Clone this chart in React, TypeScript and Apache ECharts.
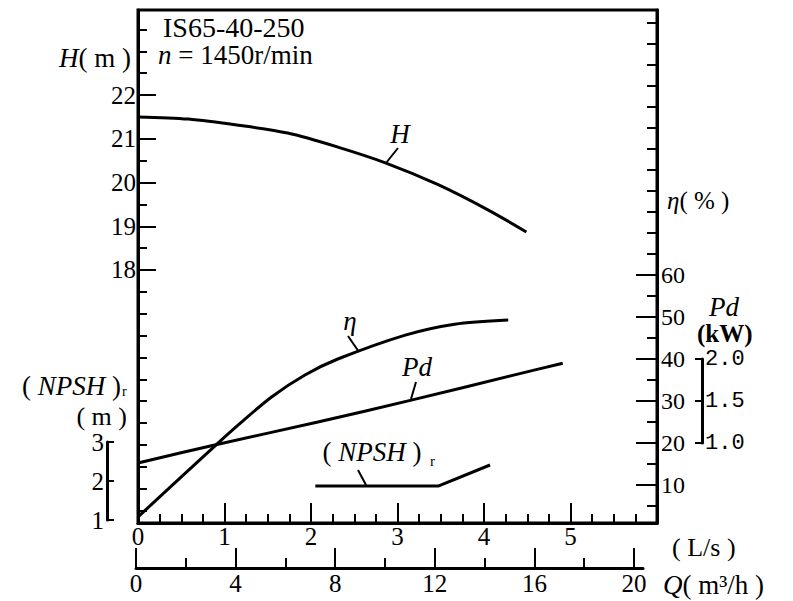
import React, { useEffect, useRef } from 'react';
import * as echarts from 'echarts';

// ---- data (flow in L/s) ----
const headFlow = [0, 0.58, 1.16, 1.73, 2.31, 2.86, 3.47, 4.05, 4.49];
const headValues = [21.5, 21.45, 21.31, 21.13, 20.81, 20.45, 19.95, 19.37, 18.87];
const effFlow = [0.0, 0.9, 1.16, 1.54, 1.93, 2.31, 3.09, 3.66, 4.28];
const effValues = [2.4, 19.5, 24.3, 30.9, 36.2, 40.0, 45.7, 48.3, 49.3];
const powerFlow = [0, 0.9, 2.08, 3.16, 4.39, 4.91];
const powerValues = [0.762, 0.98, 1.25, 1.51, 1.82, 1.95];
const npshFlow = [2.05, 3.47, 4.07];
const npshValues = [1.87, 1.87, 2.41];

// ---- tick labels ----
const headMajorTicks = [18, 19, 20, 21, 22];
const headMinorTicks = [12.5, 13, 13.5, 14, 14.5, 15, 15.5, 16, 16.5, 17, 17.5, 18.5, 19.5, 20.5, 21.5, 22.5, 23, 23.5];
const effMajorTicks = [10, 20, 30, 40, 50, 60];
const effMinorTicks = [5, 15, 25, 35, 45, 55, 65, 70, 75, 80, 85, 90, 95, 100, 105, 110, 115, 120];
const m3hMajorTicks = [0, 4, 8, 12, 16, 20];
const m3hMinorTicks = [2, 6, 10, 14, 18];

const serif = '"Liberation Serif", "DejaVu Serif", serif';
const mono = '"Liberation Mono", "DejaVu Sans Mono", monospace';
const black = '#000';

const zip = (a: number[], b: number[]) => a.map((v, i) => [v, b[i]]);

const axisLabelFont = { fontFamily: serif, fontSize: 25, color: black };
const tickStyle = { color: black, width: 2 };
const lineStyleAxis = { color: black, width: 3 };

function txt(x: number, y: number, text: string, extra: any = {}) {
  return {
    type: 'text',
    x,
    y,
    silent: true,
    style: {
      text,
      fontFamily: serif,
      fontSize: 27,
      fill: black,
      align: 'left',
      verticalAlign: 'middle',
      ...extra,
    },
  };
}
const italicRich = (size: number) => ({ i: { fontFamily: serif, fontSize: size, fontStyle: 'italic', fill: black } });
function leader(x1: number, y1: number, x2: number, y2: number) {
  return { type: 'line', silent: true, shape: { x1, y1, x2, y2 }, style: { stroke: black, lineWidth: 2 } };
}

export default function App() {
  const ref = useRef<HTMLDivElement>(null);
  useEffect(() => {
    const chart = echarts.init(ref.current!, null, { renderer: 'svg' });
    const curve = (name: string, yAxisIndex: number, data: number[][], smooth: boolean | number) => ({
      type: 'line',
      name,
      xAxisIndex: 0,
      yAxisIndex,
      data,
      smooth,
      showSymbol: false,
      silent: true,
      lineStyle: { color: black, width: 3 },
    });
    chart.setOption({
      animation: false,
      backgroundColor: '#fff',
      grid: [
        { left: 138, top: 10, width: 519, height: 513, show: true, borderColor: black, borderWidth: 3, backgroundColor: 'transparent' },
        { left: 136, top: 566, width: 507, height: 2 },
        { left: 107, top: 442, width: 1, height: 78 },
        { left: 695, top: 359, width: 7, height: 84 },
      ],
      xAxis: [
        {
          gridIndex: 0, type: 'value', position: 'bottom', min: 0, max: 6, interval: 1,
          axisLine: { show: true, onZero: false, lineStyle: lineStyleAxis },
          axisTick: { show: true, inside: true, length: 20, lineStyle: tickStyle },
          minorTick: { show: true, splitNumber: 4, length: 9, lineStyle: tickStyle },
          axisLabel: { ...axisLabelFont, margin: 1, formatter: (v: number) => (v > 5.5 ? '' : String(v)) },
          splitLine: { show: false }, minorSplitLine: { show: false },
        },
        {
          gridIndex: 1, type: 'value', position: 'bottom', min: 0, max: 20.36,
          axisLine: { show: true, onZero: false, lineStyle: lineStyleAxis },
          axisTick: { show: true, inside: true, length: 20, lineStyle: tickStyle, customValues: m3hMajorTicks },
          axisLabel: { ...axisLabelFont, margin: 3, customValues: m3hMajorTicks },
          splitLine: { show: false },
        },
        {
          gridIndex: 1, type: 'value', position: 'bottom', min: 0, max: 20.36,
          axisLine: { show: false, onZero: false },
          axisTick: { show: true, inside: true, length: 10, lineStyle: tickStyle, customValues: m3hMinorTicks },
          axisLabel: { show: false },
          splitLine: { show: false },
        },
        { gridIndex: 2, type: 'value', show: false, min: 0, max: 1 },
        { gridIndex: 3, type: 'value', show: false, min: 0, max: 1 },
      ],
      yAxis: [
        {
          gridIndex: 0, type: 'value', position: 'left', min: 12.217, max: 23.943,
          axisLine: { show: true, onZero: false, lineStyle: lineStyleAxis },
          axisTick: { show: true, inside: true, length: 18, lineStyle: tickStyle, customValues: headMajorTicks },
          axisLabel: { ...axisLabelFont, margin: 2, customValues: headMajorTicks },
          splitLine: { show: false },
        },
        {
          gridIndex: 0, type: 'value', position: 'left', min: 12.217, max: 23.943,
          axisLine: { show: false, onZero: false },
          axisTick: { show: true, inside: true, length: 9, lineStyle: tickStyle, customValues: headMinorTicks },
          axisLabel: { show: false },
          splitLine: { show: false },
        },
        {
          gridIndex: 0, type: 'value', position: 'right', min: 0.952, max: 123.1,
          axisLine: { show: true, onZero: false, lineStyle: lineStyleAxis },
          axisTick: { show: true, inside: true, length: 21, lineStyle: tickStyle, customValues: effMajorTicks },
          axisLabel: { fontFamily: serif, fontSize: 24, color: black, margin: 4, customValues: effMajorTicks },
          splitLine: { show: false },
        },
        {
          gridIndex: 0, type: 'value', position: 'right', min: 0.952, max: 123.1,
          axisLine: { show: false, onZero: false },
          axisTick: { show: true, inside: true, length: 10, lineStyle: tickStyle, customValues: effMinorTicks },
          axisLabel: { show: false },
          splitLine: { show: false },
        },
        { gridIndex: 0, type: 'value', show: false, min: 0.0476, max: 6.155, axisLine: { onZero: false } },
        { gridIndex: 0, type: 'value', show: false, min: 0.923, max: 14.077, axisLine: { onZero: false } },
        { gridIndex: 1, type: 'value', show: false, min: 0, max: 1 },
        {
          gridIndex: 2, type: 'value', position: 'left', min: 1, max: 3, interval: 1,
          axisLine: { show: true, onZero: false, lineStyle: lineStyleAxis },
          axisTick: { show: true, inside: true, length: 7, lineStyle: tickStyle },
          axisLabel: { ...axisLabelFont, margin: 3 },
          splitLine: { show: false },
        },
        {
          gridIndex: 3, type: 'value', position: 'right', min: 1, max: 2, interval: 0.5,
          axisLine: { show: true, onZero: false, lineStyle: lineStyleAxis },
          axisTick: { show: true, inside: true, length: 7, lineStyle: tickStyle },
          axisLabel: { fontFamily: mono, fontSize: 22, color: black, margin: 3, formatter: (v: number) => v.toFixed(1) },
          splitLine: { show: false },
        },
      ],
      series: [
        curve('H', 0, zip(headFlow, headValues), 0.3),
        curve('η', 2, zip(effFlow, effValues), 0.3),
        curve('Pd', 4, zip(powerFlow, powerValues), 0.3),
        curve('(NPSH)r', 5, zip(npshFlow, npshValues), false),
      ],
      graphic: [
        txt(163, 27, 'IS65-40-250', { fontSize: 28 }),
        txt(158, 55, '{i|n} = 1450r/min', { rich: italicRich(27) }),
        txt(131, 58, '{i|H}( m )', { align: 'right', rich: italicRich(27) }),
        txt(667, 200, '{i|η}( % )', { fontSize: 25, rich: italicRich(25) }),
        txt(709, 307, 'Pd', { fontStyle: 'italic', fontSize: 27 }),
        txt(697, 333, '(kW)', { fontWeight: 'bold', fontSize: 25 }),
        txt(121, 386, '( {i|NPSH} )', { align: 'right', fontSize: 27, rich: italicRich(27) }),
        txt(122, 391, 'r', { fontSize: 14 }),
        txt(127, 416, '( m )', { align: 'right', fontSize: 26 }),
        txt(672, 547, '( L/s )', { fontSize: 26 }),
        txt(663, 585, '{i|Q}( m³/h )', { fontSize: 27, rich: italicRich(27) }),
        txt(400, 134, 'H', { align: 'center', fontStyle: 'italic' }),
        leader(398, 148, 386, 163),
        txt(350, 321, 'η', { align: 'center', fontStyle: 'italic' }),
        leader(348, 336, 359, 352),
        txt(417, 367, 'Pd', { align: 'center', fontStyle: 'italic' }),
        leader(416, 382, 411, 399),
        txt(372, 452, '( {i|NPSH} )', { align: 'center', rich: italicRich(27) }),
        txt(430, 461, 'r', { fontSize: 15 }),
        leader(358, 470, 366, 485),
      ],
    });
    return () => chart.dispose();
  }, []);
  return (
    <div
      ref={ref}
      style={{ position: 'fixed', left: 0, top: 0, width: 793, height: 601, background: '#fff' }}
    />
  );
}
